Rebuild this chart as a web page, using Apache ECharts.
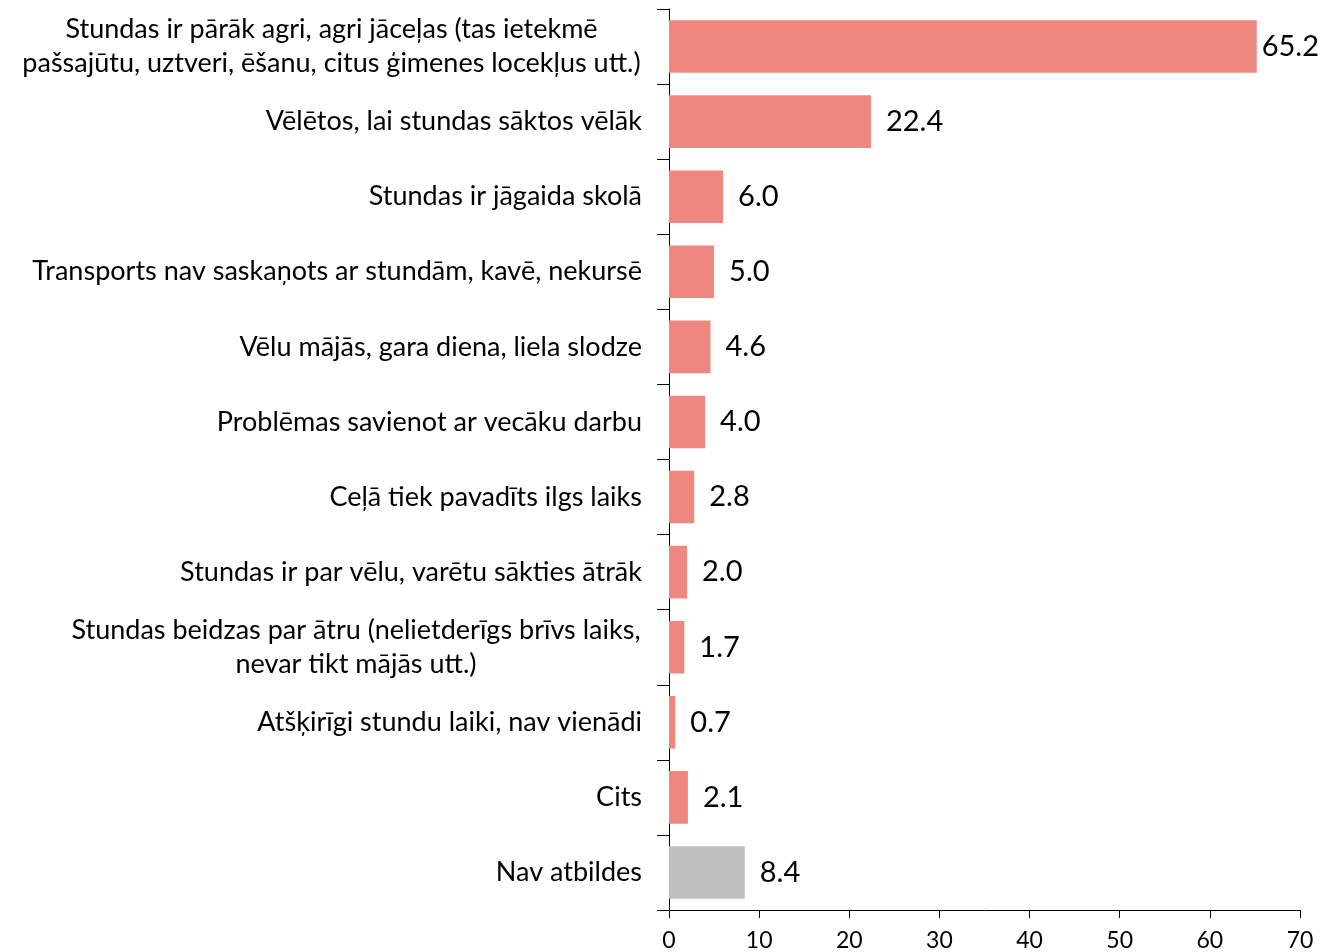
<!DOCTYPE html>
<html>
<head>
<meta charset="utf-8">
<script src="https://cdn.jsdelivr.net/npm/echarts@6/dist/echarts.min.js"></script>
<style>
  html, body { margin: 0; padding: 0; background: #fff; }
  #chart { width: 1322px; height: 952px; }
</style>
</head>
<body>
<div id="chart"></div>
<script>
const categories = [
    'Stundas ir pārāk agri, agri jāceļas (tas ietekmē\npašsajūtu, uztveri, ēšanu, citus ģimenes locekļus utt.)',
    'Vēlētos, lai stundas sāktos vēlāk',
    'Stundas ir jāgaida skolā',
    'Transports nav saskaņots ar stundām, kavē, nekursē',
    'Vēlu mājās, gara diena, liela slodze',
    'Problēmas savienot ar vecāku darbu',
    'Ceļā tiek pavadīts ilgs laiks',
    'Stundas ir par vēlu, varētu sākties ātrāk',
    'Stundas beidzas par ātru (nelietderīgs brīvs laiks,\nnevar tikt mājās utt.)',
    'Atšķirīgi stundu laiki, nav vienādi',
    'Cits',
    'Nav atbildes',
];
const values = [65.2, 22.4, 6.0, 5.0, 4.6, 4.0, 2.8, 2.0, 1.7, 0.7, 2.1, 8.4];
const xTicks = [0, 10, 20, 30, 40, 50, 60, 70];
const grayCategory = 'Nav atbildes';

const FONT = 'Lato, "Open Sans", sans-serif';
const CAT_SIZE = 27;

// measure multi-line labels so each line can be centred within the block
const ctx = document.createElement('canvas').getContext('2d');
ctx.font = `${CAT_SIZE}px ${FONT}`;
const rich = {};
const labelKey = {};
categories.forEach((c, i) => {
    const lines = c.split('\n');
    if (lines.length < 2) return;
    const w = Math.ceil(Math.max(...lines.map(l => ctx.measureText(l).width))) + 2;
    rich['m' + i] = {width: w, align: 'center', fontSize: CAT_SIZE, fontFamily: FONT, color: '#000', lineHeight: 34};
    labelKey[c] = 'm' + i;
});

const maxVal = Math.max(...values);
const data = values.map((v, i) => ({
    value: v,
    itemStyle: {color: categories[i] === grayCategory ? '#BFBFBF' : '#EE877F'},
    label: {distance: v === maxVal ? 5 : 15},
}));

const chart = echarts.init(document.getElementById('chart'));
chart.setOption({
    animation: false,
    grid: {left: 669, right: 22, top: 9, bottom: 42},
    xAxis: {
        type: 'value',
        min: xTicks[0],
        max: xTicks[xTicks.length - 1],
        interval: 10,
        axisLine: {show: true, lineStyle: {color: '#000', width: 1}},
        axisTick: {show: true, length: 8, lineStyle: {color: '#000'}},
        splitLine: {show: false},
        axisLabel: {color: '#000', fontSize: 23, fontFamily: FONT, margin: 19},
    },
    yAxis: {
        type: 'category',
        inverse: true,
        data: categories,
        axisLine: {show: true, lineStyle: {color: '#000', width: 1}},
        axisTick: {show: true, length: 12, lineStyle: {color: '#000'}},
        axisLabel: {
            color: '#000',
            fontSize: CAT_SIZE,
            fontFamily: FONT,
            margin: 27,
            lineHeight: 34,
            interval: 0,
            formatter: (val) => {
                const key = labelKey[val];
                if (!key) return val;
                return val.split('\n').map(l => `{${key}|${l}}`).join('\n');
            },
            rich,
        },
    },
    series: [
        {
            type: 'bar',
            data,
            barCategoryGap: '30%',
            label: {
                show: true,
                position: 'right',
                color: '#000',
                fontSize: 29,
                fontFamily: FONT,
                formatter: (p) => p.value.toFixed(1),
            },
        },
    ],
});
</script>
</body>
</html>
